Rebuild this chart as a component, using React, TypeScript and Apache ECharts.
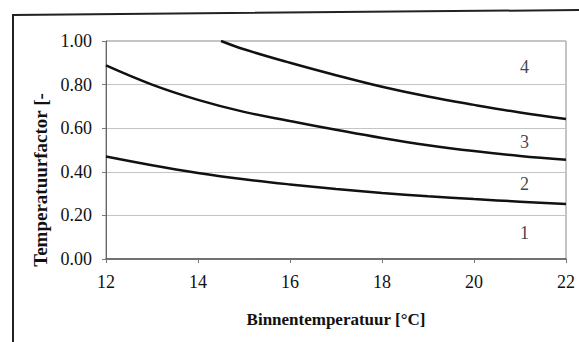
import React, { useEffect, useRef } from "react";
import * as echarts from "echarts";

const xTicks = [12, 14, 16, 18, 20, 22];
const curve2X = [12, 13, 14, 15, 16, 17, 18, 19, 20, 21, 22];
const curve2Y = [0.47, 0.43, 0.395, 0.366, 0.342, 0.321, 0.303, 0.288, 0.275, 0.263, 0.252];
const curve3X = [12, 13, 14, 15, 16, 17, 18, 19, 20, 21, 22];
const curve3Y = [0.888, 0.8, 0.73, 0.675, 0.633, 0.593, 0.555, 0.522, 0.495, 0.473, 0.455];
const curve4X = [14.5, 15, 16, 17, 18, 19, 20, 21, 22];
const curve4Y = [1.0, 0.962, 0.9, 0.843, 0.79, 0.745, 0.707, 0.672, 0.642];
const labelNames = ["4", "3", "2", "1"];
const labelX = [21.1, 21.1, 21.1, 21.1];
const labelY = [0.88, 0.535, 0.345, 0.12];

const serif = "'Liberation Serif', 'Times New Roman', serif";

export default function App() {
  const ref = useRef<HTMLDivElement>(null);
  useEffect(() => {
    const chart = echarts.init(ref.current!, null, { renderer: "svg" });
    const line = (xs: number[], ys: number[]) => ({
      type: "line",
      data: xs.map((x, i) => [x, ys[i]]),
      smooth: 0.4,
      showSymbol: false,
      lineStyle: { color: "#111", width: 2.5 },
      clip: true,
    });
    const tickText = {
      fontFamily: serif,
      fontSize: 18,
      color: "#111",
      textBorderWidth: 0,
    };
    chart.setOption({
      animation: false,
      backgroundColor: "#fff",
      textStyle: { fontFamily: serif },
      grid: {
        left: 106,
        right: 13,
        top: 41,
        bottom: 83,
        show: true,
        borderColor: "#8a8a8a",
        borderWidth: 1,
        backgroundColor: "transparent",
      },
      xAxis: {
        type: "value",
        min: 12,
        max: 22,
        interval: 2,
        name: "Binnentemperatuur [°C]",
        nameLocation: "middle",
        nameGap: 52,
        nameTextStyle: { fontFamily: serif, fontSize: 17, fontWeight: "bold", color: "#111" },
        axisLine: { show: true, lineStyle: { color: "#555", width: 1.5 } },
        axisTick: { show: true, length: 4, lineStyle: { color: "#777" } },
        axisLabel: {
          ...tickText,
          margin: 14,
          formatter: (v: number) => "{s|" + v + "}",
          rich: { s: tickText },
        },
        splitLine: { show: false },
      },
      yAxis: {
        type: "value",
        min: 0,
        max: 1,
        interval: 0.2,
        name: "Temperatuurfactor [-",
        nameLocation: "middle",
        nameGap: 54,
        nameTextStyle: {
          fontFamily: serif,
          fontSize: 19,
          fontWeight: "bold",
          color: "#111",
          padding: [0, 60, 0, 0],
        },
        axisLine: { show: true, lineStyle: { color: "#666", width: 1 } },
        axisTick: { show: true, length: 4, lineStyle: { color: "#777" } },
        axisLabel: {
          ...tickText,
          margin: 14,
          formatter: (v: number) => "{s|" + v.toFixed(2) + "}",
          rich: { s: tickText },
        },
        splitLine: { show: true, lineStyle: { color: "#c4c4c4", width: 1 } },
      },
      series: [
        line(curve2X, curve2Y),
        line(curve3X, curve3Y),
        line(curve4X, curve4Y),
        {
          type: "scatter",
          symbolSize: 1,
          itemStyle: { color: "rgba(255,255,255,0)" },
          data: labelNames.map((n, i) => ({ value: [labelX[i], labelY[i]], name: n })),
          label: {
            show: true,
            position: "inside",
            formatter: (p: any) => p.name,
            ...tickText,
          },
        },
      ],
      graphic: [
        {
          type: "polyline",
          shape: { points: [[13, 342], [13, 15], [579, 10]] },
          style: { stroke: "#222", lineWidth: 2, fill: "none" },
        },
      ],
    });
    return () => chart.dispose();
  }, []);
  return (
    <div
      ref={ref}
      style={{ position: "fixed", left: 0, top: 0, width: 579, height: 342 }}
    />
  );
}
